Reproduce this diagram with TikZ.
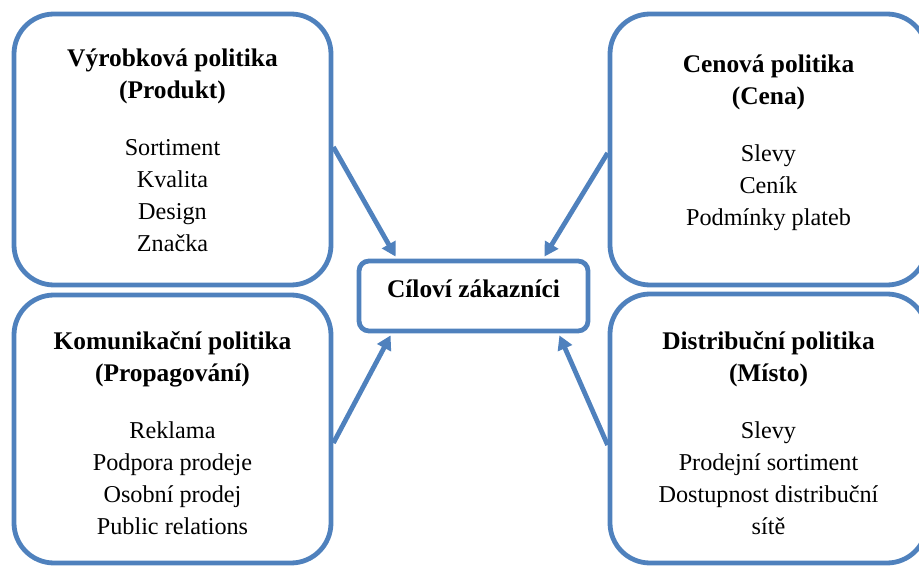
\documentclass[tikz,border=0pt]{standalone}
\usepackage{fontspec}
\setmainfont{Liberation Serif}
\usepackage{tikz}
\usetikzlibrary{positioning,arrows.meta}
\definecolor{ramec}{HTML}{4F81BD}
\newcommand\nadpisText{\fontsize{25.4}{32}\selectfont\bfseries}
\newcommand\polozkaText{\fontsize{24.2}{32}\selectfont}

\begin{document}
\begin{tikzpicture}[x=1pt, y=-1pt,
        pole/.style={draw=ramec, line width=4.8pt, rounded corners=40pt,
            minimum width=317pt, inner sep=0},
        popis/.style={align=center, inner sep=0, font=\polozkaText},
        sipka/.style={draw=ramec, line width=4.8pt,
            -{Triangle[length=14pt, width=15pt]}}
    ]
    \useasboundingbox (0,0) rectangle (919,567);

    % ctyri oblasti mixu
    \node[pole, minimum height=271pt] (produkt) at (172.5,149.5) {};
    \node[pole, minimum height=271pt] (cena)    at (768.5,149.5) {};
    \node[pole, minimum height=268pt] (propag)  at (172.5,429)   {};
    \node[pole, minimum height=269pt] (misto)   at (768.5,428.5) {};

    \node[popis, below=37.5pt of produkt.north] (produktText) {%
        \nadpisText Výrobková politika\\ \nadpisText (Produkt)\\[25pt]
        Sortiment\\ Kvalita\\ Design\\ Značka};
    \node[popis, below=43pt of cena.north] (cenaText) {%
        \nadpisText Cenová politika\\ \nadpisText (Cena)\\[25pt]
        Slevy\\ Ceník\\ Podmínky plateb};
    \node[popis, below=38.5pt of propag.north] (propagText) {%
        \nadpisText Komunikační politika\\ \nadpisText (Propagování)\\[25pt]
        Reklama\\ Podpora prodeje\\ Osobní prodej\\ Public relations};
    \node[popis, below=39.5pt of misto.north] (mistoText) {%
        \nadpisText Distribuční politika\\ \nadpisText (Místo)\\[25pt]
        Slevy\\ Prodejní sortiment\\ Dostupnost distribuční\\ sítě};

    % stred
    \node[draw=ramec, line width=4.8pt, rounded corners=10pt,
        minimum width=229pt, minimum height=70pt, inner sep=0,
        text depth=15pt, font=\nadpisText] (zakaznici) at (473.5,296) {Cíloví zákazníci};

    \draw[sipka] ([yshift=2.5pt]produkt.east)  -- ([xshift=39pt, yshift=2pt]zakaznici.north west);
    \draw[sipka] ([yshift=-3.5pt]cena.west)    -- ([xshift=-46pt, yshift=2pt]zakaznici.north east);
    \draw[sipka] ([yshift=-14pt]propag.east)   -- ([xshift=34pt, yshift=-2pt]zakaznici.south west);
    \draw[sipka] ([yshift=-16.5pt]misto.west)  -- ([xshift=-31pt, yshift=-2pt]zakaznici.south east);
\end{tikzpicture}
\end{document}
